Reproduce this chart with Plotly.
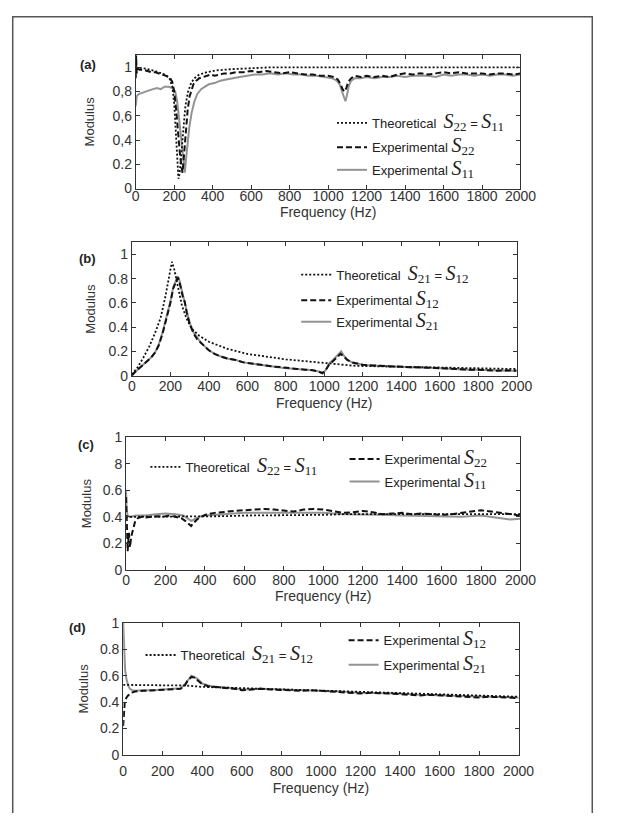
import plotly.graph_objects as go

# ---------------- data ----------------
# Panel (a): reflection S22 / S11
fa_theo = [0, 50, 100, 150, 175, 190, 200, 207, 213, 218, 222, 228, 236, 246, 258, 272, 288, 305, 330, 370, 420, 500, 600, 700, 800, 1000, 1200, 1400, 1600, 1800, 2000]
va_theo = [1.00, 0.99, 0.97, 0.94, 0.91, 0.84, 0.70, 0.50, 0.28, 0.14, 0.08, 0.12, 0.28, 0.50, 0.68, 0.80, 0.87, 0.91, 0.94, 0.96, 0.975, 0.985, 0.995, 1.0, 1.0, 1.0, 1.0, 1.0, 1.0, 1.0, 1.0]

fa_s22 = [0, 2, 5, 10, 20, 40, 60, 80, 100, 120, 140, 160, 175, 190, 200, 210, 220, 230, 238, 243, 248, 255, 262, 270, 280, 290, 300, 315, 330, 350, 370, 390, 410, 430, 460, 490, 520, 560, 600, 640, 680, 720, 760, 800, 840, 880, 920, 960, 1000, 1030, 1050, 1065, 1075, 1085, 1095, 1105, 1120, 1140, 1170, 1200, 1240, 1280, 1320, 1360, 1400, 1440, 1480, 1520, 1560, 1600, 1640, 1680, 1720, 1760, 1800, 1840, 1880, 1920, 1960, 2000]
va_s22 = [0.91, 1.10, 0.95, 0.99, 0.98, 0.98, 0.97, 0.96, 0.96, 0.95, 0.94, 0.93, 0.92, 0.88, 0.80, 0.65, 0.45, 0.28, 0.18, 0.13, 0.22, 0.38, 0.52, 0.65, 0.76, 0.82, 0.86, 0.89, 0.91, 0.92, 0.93, 0.94, 0.93, 0.94, 0.95, 0.95, 0.96, 0.96, 0.97, 0.96, 0.97, 0.96, 0.95, 0.96, 0.95, 0.94, 0.94, 0.93, 0.93, 0.92, 0.90, 0.86, 0.82, 0.80, 0.83, 0.88, 0.91, 0.93, 0.92, 0.93, 0.92, 0.93, 0.92, 0.94, 0.95, 0.94, 0.95, 0.94, 0.95, 0.96, 0.95, 0.96, 0.95, 0.95, 0.95, 0.94, 0.95, 0.95, 0.94, 0.95]

fa_s11 = [0, 5, 15, 30, 50, 70, 90, 110, 130, 150, 170, 190, 205, 215, 225, 235, 243, 250, 255, 260, 268, 278, 290, 305, 320, 340, 360, 380, 410, 440, 470, 500, 540, 580, 620, 660, 700, 740, 780, 820, 860, 900, 940, 980, 1020, 1045, 1060, 1072, 1082, 1090, 1098, 1108, 1120, 1140, 1170, 1200, 1240, 1280, 1320, 1360, 1400, 1440, 1480, 1520, 1560, 1600, 1640, 1680, 1720, 1760, 1800, 1840, 1880, 1920, 1960, 2000]
va_s11 = [0.68, 0.76, 0.78, 0.79, 0.80, 0.81, 0.82, 0.83, 0.82, 0.84, 0.84, 0.83, 0.80, 0.72, 0.58, 0.42, 0.28, 0.16, 0.13, 0.22, 0.35, 0.50, 0.62, 0.72, 0.78, 0.82, 0.84, 0.86, 0.87, 0.89, 0.90, 0.91, 0.92, 0.93, 0.94, 0.94, 0.95, 0.94, 0.95, 0.94, 0.94, 0.93, 0.93, 0.92, 0.91, 0.89, 0.86, 0.80, 0.75, 0.72, 0.77, 0.85, 0.89, 0.91, 0.91, 0.92, 0.91, 0.92, 0.92, 0.93, 0.92, 0.93, 0.93, 0.93, 0.92, 0.94, 0.93, 0.94, 0.94, 0.93, 0.94, 0.93, 0.94, 0.94, 0.93, 0.94]

# Panel (b): transmission S21 / S12
fb_theo = [0, 30, 60, 90, 120, 150, 175, 195, 208, 220, 240, 260, 285, 310, 350, 400, 450, 500, 600, 700, 800, 900, 1000, 1050, 1100, 1150, 1200, 1300, 1400, 1500, 1600, 1700, 1800, 1900, 2000]
vb_theo = [0.01, 0.07, 0.15, 0.24, 0.35, 0.48, 0.66, 0.84, 0.94, 0.88, 0.72, 0.58, 0.47, 0.39, 0.33, 0.28, 0.25, 0.22, 0.18, 0.155, 0.135, 0.12, 0.105, 0.095, 0.09, 0.083, 0.08, 0.077, 0.073, 0.07, 0.067, 0.063, 0.06, 0.057, 0.055]

fb_s12 = [0, 10, 30, 50, 75, 100, 120, 140, 160, 180, 200, 215, 228, 238, 245, 255, 265, 275, 285, 300, 320, 340, 360, 380, 400, 430, 460, 500, 540, 580, 620, 660, 700, 740, 780, 820, 860, 900, 940, 970, 990, 1005, 1025, 1045, 1065, 1085, 1100, 1120, 1145, 1170, 1200, 1250, 1300, 1350, 1400, 1450, 1500, 1550, 1600, 1650, 1700, 1750, 1800, 1850, 1900, 1950, 2000]
vb_s12 = [0.0, 0.02, 0.05, 0.08, 0.11, 0.15, 0.19, 0.25, 0.35, 0.47, 0.60, 0.72, 0.77, 0.81, 0.79, 0.72, 0.65, 0.61, 0.52, 0.43, 0.35, 0.30, 0.27, 0.24, 0.21, 0.18, 0.16, 0.14, 0.13, 0.11, 0.10, 0.09, 0.08, 0.075, 0.07, 0.06, 0.055, 0.05, 0.045, 0.035, 0.02, 0.04, 0.09, 0.12, 0.15, 0.18, 0.16, 0.13, 0.11, 0.10, 0.09, 0.085, 0.08, 0.08, 0.075, 0.07, 0.07, 0.065, 0.06, 0.06, 0.055, 0.05, 0.05, 0.045, 0.04, 0.045, 0.04]

fb_s21 = [0, 10, 30, 50, 75, 100, 120, 140, 160, 180, 200, 215, 228, 238, 245, 255, 265, 275, 285, 300, 320, 340, 360, 380, 400, 430, 460, 500, 540, 580, 620, 660, 700, 740, 780, 820, 860, 900, 940, 970, 990, 1005, 1025, 1045, 1065, 1088, 1100, 1120, 1145, 1170, 1200, 1250, 1300, 1350, 1400, 1450, 1500, 1550, 1600, 1650, 1700, 1750, 1800, 1850, 1900, 1950, 2000]
vb_s21 = [0.0, 0.02, 0.05, 0.08, 0.11, 0.15, 0.19, 0.26, 0.36, 0.48, 0.61, 0.73, 0.79, 0.82, 0.80, 0.73, 0.66, 0.61, 0.53, 0.44, 0.36, 0.31, 0.27, 0.24, 0.21, 0.18, 0.16, 0.14, 0.13, 0.11, 0.10, 0.09, 0.08, 0.075, 0.065, 0.06, 0.055, 0.05, 0.045, 0.035, 0.025, 0.04, 0.10, 0.13, 0.16, 0.20, 0.17, 0.13, 0.11, 0.10, 0.09, 0.085, 0.08, 0.075, 0.075, 0.07, 0.065, 0.065, 0.06, 0.055, 0.055, 0.05, 0.05, 0.045, 0.045, 0.04, 0.04]

# Panel (c): reflection S22 / S11 (second configuration)
fc_theo = [0, 100, 200, 300, 400, 500, 600, 700, 800, 900, 1000, 1100, 1200, 1400, 1600, 1800, 2000]
vc_theo = [0.40, 0.40, 0.40, 0.40, 0.40, 0.405, 0.41, 0.41, 0.415, 0.415, 0.415, 0.42, 0.42, 0.42, 0.42, 0.42, 0.42]

fc_s22 = [0, 3, 8, 14, 20, 26, 35, 45, 60, 80, 100, 130, 160, 190, 220, 250, 280, 300, 320, 330, 340, 360, 380, 410, 450, 500, 550, 600, 650, 700, 750, 800, 850, 900, 950, 1000, 1050, 1100, 1150, 1200, 1250, 1300, 1350, 1400, 1450, 1500, 1550, 1600, 1650, 1700, 1750, 1800, 1850, 1900, 1950, 2000]
vc_s22 = [0.55, 0.35, 0.14, 0.28, 0.17, 0.25, 0.30, 0.36, 0.39, 0.40, 0.395, 0.40, 0.405, 0.40, 0.41, 0.40, 0.39, 0.37, 0.345, 0.33, 0.35, 0.38, 0.40, 0.42, 0.43, 0.44, 0.445, 0.45, 0.455, 0.46, 0.455, 0.45, 0.44, 0.455, 0.46, 0.455, 0.44, 0.43, 0.435, 0.445, 0.435, 0.42, 0.425, 0.43, 0.42, 0.425, 0.42, 0.415, 0.42, 0.43, 0.44, 0.45, 0.44, 0.43, 0.42, 0.41]

fc_s11 = [0, 3, 8, 20, 50, 100, 150, 200, 250, 290, 310, 330, 345, 370, 400, 450, 500, 600, 700, 800, 900, 1000, 1100, 1200, 1300, 1400, 1500, 1600, 1700, 1800, 1850, 1900, 1950, 2000]
vc_s11 = [0.60, 0.45, 0.41, 0.40, 0.41, 0.41, 0.42, 0.425, 0.42, 0.41, 0.39, 0.37, 0.38, 0.40, 0.41, 0.415, 0.42, 0.43, 0.43, 0.43, 0.425, 0.43, 0.42, 0.42, 0.415, 0.41, 0.405, 0.40, 0.40, 0.41, 0.40, 0.395, 0.38, 0.385]

# Panel (d): transmission S21 / S12 (second configuration)
fd_theo = [0, 100, 200, 280, 320, 360, 400, 500, 600, 800, 1000, 1200, 1400, 1600, 1800, 2000]
vd_theo = [0.53, 0.53, 0.53, 0.53, 0.525, 0.52, 0.515, 0.51, 0.505, 0.50, 0.49, 0.48, 0.47, 0.46, 0.45, 0.44]

fd_s12 = [0, 4, 8, 15, 25, 40, 60, 100, 150, 200, 250, 290, 310, 325, 345, 360, 380, 400, 430, 470, 520, 560, 600, 650, 700, 750, 800, 850, 900, 950, 1000, 1050, 1100, 1150, 1200, 1250, 1300, 1350, 1400, 1450, 1500, 1550, 1600, 1650, 1700, 1750, 1800, 1850, 1900, 1950, 2000]
vd_s12 = [0.22, 0.33, 0.40, 0.43, 0.45, 0.47, 0.48, 0.485, 0.49, 0.49, 0.495, 0.50, 0.52, 0.56, 0.59, 0.585, 0.56, 0.535, 0.52, 0.515, 0.51, 0.50, 0.49, 0.495, 0.50, 0.495, 0.49, 0.49, 0.485, 0.49, 0.485, 0.48, 0.48, 0.475, 0.465, 0.47, 0.47, 0.465, 0.46, 0.455, 0.45, 0.455, 0.45, 0.445, 0.445, 0.44, 0.435, 0.44, 0.44, 0.435, 0.43]

fd_s21 = [0, 3, 6, 10, 16, 24, 34, 45, 60, 100, 150, 200, 250, 290, 310, 330, 345, 360, 380, 400, 430, 470, 520, 560, 600, 700, 800, 900, 1000, 1100, 1200, 1300, 1400, 1500, 1600, 1700, 1800, 1900, 2000]
vd_s21 = [1.0, 0.85, 0.72, 0.64, 0.58, 0.53, 0.50, 0.49, 0.485, 0.49, 0.49, 0.495, 0.50, 0.505, 0.53, 0.57, 0.60, 0.59, 0.57, 0.54, 0.525, 0.515, 0.51, 0.505, 0.495, 0.50, 0.495, 0.49, 0.49, 0.48, 0.47, 0.47, 0.465, 0.455, 0.45, 0.445, 0.44, 0.44, 0.435]

x_ticks = [0, 200, 400, 600, 800, 1000, 1200, 1400, 1600, 1800, 2000]
y_ticks = [0, 0.2, 0.4, 0.6, 0.8, 1]
y_labels_a = ["0", "0.2", "0,4", "0,6", "0,8", "1"]
y_labels_b = ["0", "0.2", "0.4", "0.6", "0.8", "1"]
y_labels_c = ["0", "0.2", "0.4", "0.6", "8", "1"]
y_labels_d = ["0", "0.2", "0.4", "0.6", "0.8", "1"]

# ---------------- layout helpers ----------------
# The page body keeps its default 8px margin, so the figure is sized to
# fit the 617x821 window exactly; positions below are page pixels.
PAGE_MARGIN = 8
W, H = 617 - 2 * PAGE_MARGIN, 821 - 2 * PAGE_MARGIN
def px(x):
    return (x - PAGE_MARGIN) / W
def py(y):
    return 1 - (y - PAGE_MARGIN) / H

FONT = "Liberation Sans, Arial, sans-serif"
GRAY = "#939393"
BLACK = "#111111"
AXC = "#333333"

def S(sub):
    return ('<span style="font-family:\'Liberation Serif\',serif;font-style:italic;font-size:20px">S</span>'
            '<sub><span style="font-family:\'Liberation Serif\',serif;font-size:13px">' + sub + '</span></sub>')

fig = go.Figure()

panels = [
    dict(xd=(136, 534), yd=(48, 184), yr=[0, 1.1], yl=y_labels_a,
         theo=(fa_theo, va_theo), e1=(fa_s22, va_s22), e2=(fa_s11, va_s11),
         names=("Theoretical  " + S("22") + " = " + S("11"), "Experimental " + S("22"), "Experimental " + S("11")),
         xls=-5, xts=1, yts=14),
    dict(xd=(132, 530), yd=(239, 375), yr=[0, 1.1], yl=y_labels_b,
         theo=(fb_theo, vb_theo), e1=(fb_s12, vb_s12), e2=(fb_s21, vb_s21),
         names=("Theoretical  " + S("21") + " = " + S("12"), "Experimental " + S("12"), "Experimental " + S("21")),
         xls=-3, xts=5, yts=10),
    dict(xd=(126, 534), yd=(438, 573), yr=[0, 1.0], yl=y_labels_c,
         theo=(fc_theo, vc_theo), e1=(fc_s22, vc_s22), e2=(fc_s11, vc_s11),
         names=("Theoretical  " + S("22") + " = " + S("11"), "Experimental " + S("22"), "Experimental " + S("11")),
         xls=-3, xts=1, yts=8),
    dict(xd=(123, 532), yd=(627, 762), yr=[0, 1.0], yl=y_labels_d,
         theo=(fd_theo, vd_theo), e1=(fd_s12, vd_s12), e2=(fd_s21, vd_s21),
         names=("Theoretical  " + S("21") + " = " + S("12"), "Experimental " + S("12"), "Experimental " + S("21")),
         xls=3, xts=5, yts=8),
]

legend_pos = [
    [(340, 117), (340, 142), (340, 165)],
    [(303, 272), (303, 298), (303, 320)],
    [(147, 468), (353, 460), (353, 483)],
    [(142, 660), (352, 645), (352, 670)],
]
panel_labels = ["(a)", "(b)", "(c)", "(d)"]
label_pos = [(87, 57), (86, 255), (85, 445), (76, 632)]

layout_extra = {}
annotations = []
for i, p in enumerate(panels):
    n = "" if i == 0 else str(i + 1)
    xa, ya = "x" + n, "y" + n
    specs = [
        (p["e2"], dict(color=GRAY, width=2, dash="solid"), p["names"][2], 2),
        (p["e1"], dict(color=BLACK, width=2, dash="6px,3px"), p["names"][1], 1),
        (p["theo"], dict(color=BLACK, width=1.8, dash="2px,2px"), p["names"][0], 0),
    ]
    for (xs, ys), line, name, k in specs:
        lname = "legend" if (i == 0 and k == 0) else "legend" + str(i * 3 + k + 1)
        fig.add_trace(go.Scatter(x=xs, y=ys, mode="lines", line=line, name=name,
                                 xaxis=xa, yaxis=ya, legend=lname, showlegend=True))
        lx, ly = legend_pos[i][k]
        layout_extra[lname] = dict(
            x=px(lx - 1), y=py(ly), xanchor="left", yanchor="middle",
            bgcolor="rgba(0,0,0,0)", borderwidth=0, itemwidth=30,
            font=dict(family=FONT, size=13, color="#222"),
            itemclick=False, itemdoubleclick=False)
    common_ax = dict(showline=True, linecolor=AXC, linewidth=1, mirror="allticks",
                     ticks="inside", ticklen=4, tickcolor=AXC, showgrid=False, zeroline=False,
                     tickfont=dict(family=FONT, size=14, color="#333"))
    layout_extra["xaxis" + n] = dict(
        domain=[px(p["xd"][0]), px(p["xd"][1])], anchor=ya, range=[0, 2000],
        tickvals=x_ticks, ticktext=[str(t) for t in x_ticks], ticklabelstandoff=p["xls"],
        title=dict(text="Frequency (Hz)", font=dict(family=FONT, size=14, color="#333"), standoff=p["xts"]),
        **common_ax)
    layout_extra["yaxis" + n] = dict(
        domain=[py(p["yd"][1]), py(p["yd"][0])], anchor=xa, range=p["yr"],
        tickvals=y_ticks, ticktext=p["yl"],
        title=dict(text="Modulus", font=dict(family=FONT, size=13, color="#333"), standoff=p["yts"]),
        **common_ax)
    annotations.append(dict(text="<b>" + panel_labels[i] + "</b>", xref="paper", yref="paper",
                            x=px(label_pos[i][0]), y=py(label_pos[i][1]), showarrow=False,
                            xanchor="center", yanchor="middle",
                            font=dict(family=FONT, size=13, color="#222")))

fig.update_layout(
    width=W, height=H, margin=dict(l=0, r=0, t=0, b=0),
    paper_bgcolor="white", plot_bgcolor="white",
    annotations=annotations,
    shapes=[dict(type="rect", xref="paper", yref="paper",
                 x0=px(8.75), x1=px(608.25), y0=py(900), y1=py(8.75),
                 line=dict(color="#555555", width=1.5), fillcolor="rgba(0,0,0,0)", layer="below")],
    **layout_extra,
)

fig.write_html("out.html", config={"displayModeBar": False})
